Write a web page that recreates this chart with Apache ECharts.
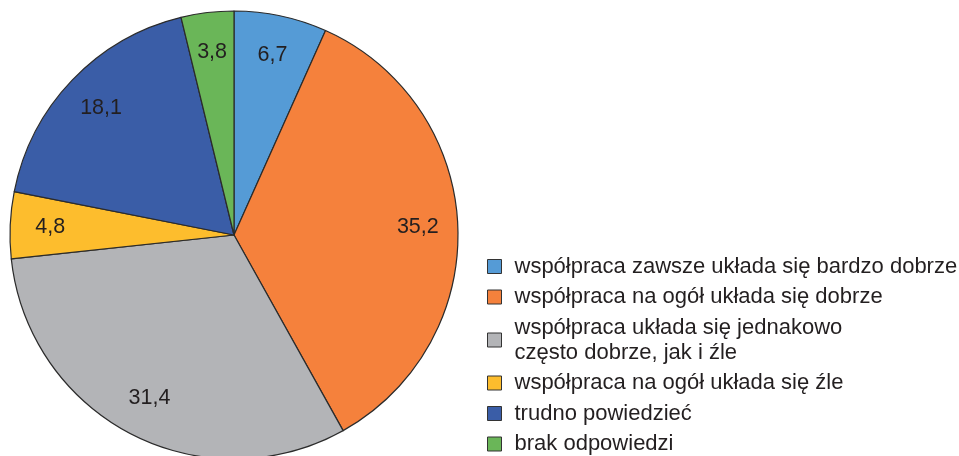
<!DOCTYPE html>
<html>
<head>
<meta charset="utf-8">
<script src="https://cdn.jsdelivr.net/npm/echarts@6/dist/echarts.min.js"></script>
<style>
  html, body { margin: 0; padding: 0; background: #fff; }
  #chart { width: 959px; height: 456px; }
</style>
</head>
<body>
<div id="chart"></div>
<script>
// dane
var categories = [
  'współpraca zawsze układa się bardzo dobrze',
  'współpraca na ogół układa się dobrze',
  'współpraca układa się jednakowo\nczęsto dobrze, jak i źle',
  'współpraca na ogół układa się źle',
  'trudno powiedzieć',
  'brak odpowiedzi'
];
var values = [6.7, 35.2, 31.4, 4.8, 18.1, 3.8];
var colors = ['#559BD6', '#F5813C', '#B3B4B7', '#FDBD2D', '#3A5DA7', '#6AB658'];

var pieData = categories.map(function(name, i) {
  return { name: name, value: values[i], itemStyle: { color: colors[i] } };
});

var chart = echarts.init(document.getElementById('chart'));
chart.setOption({
  backgroundColor: '#fff',
  animation: false,
  legend: {
    orient: 'vertical',
    left: 487,
    top: 254,
    height: 300,
    padding: 0,
    itemWidth: 14,
    itemHeight: 14,
    itemGap: 5.5,
    icon: 'rect',
    selectedMode: false,
    itemStyle: { borderColor: '#333', borderWidth: 1 },
    textStyle: {
      fontFamily: 'Liberation Sans, Arial, sans-serif',
      fontSize: 22,
      lineHeight: 25,
      color: '#231F20',
      padding: [0, 0, 0, 8]
    },
    data: categories
  },
  series: [{
    type: 'pie',
    center: [234, 235],
    radius: 224,
    startAngle: 90,
    clockwise: true,
    silent: true,
    label: { show: false },
    labelLine: { show: false },
    itemStyle: { borderColor: '#2b2b2b', borderWidth: 1.2 },
    data: pieData
  }, {
    // niewidoczna seria tylko dla etykiet
    type: 'pie',
    center: [234, 235],
    radius: 362,
    startAngle: 90,
    clockwise: true,
    silent: true,
    itemStyle: { color: 'rgba(0,0,0,0)', borderWidth: 0 },
    label: {
      show: true,
      position: 'inside',
      fontFamily: 'Liberation Sans, Arial, sans-serif',
      fontSize: 21.5,
      color: '#231F20',
      formatter: function(p) { return p.value.toFixed(1).replace('.', ','); }
    },
    labelLine: { show: false },
    data: categories.map(function(name, i) { return { name: name, value: values[i] }; })
  }]
});
</script>
</body>
</html>
